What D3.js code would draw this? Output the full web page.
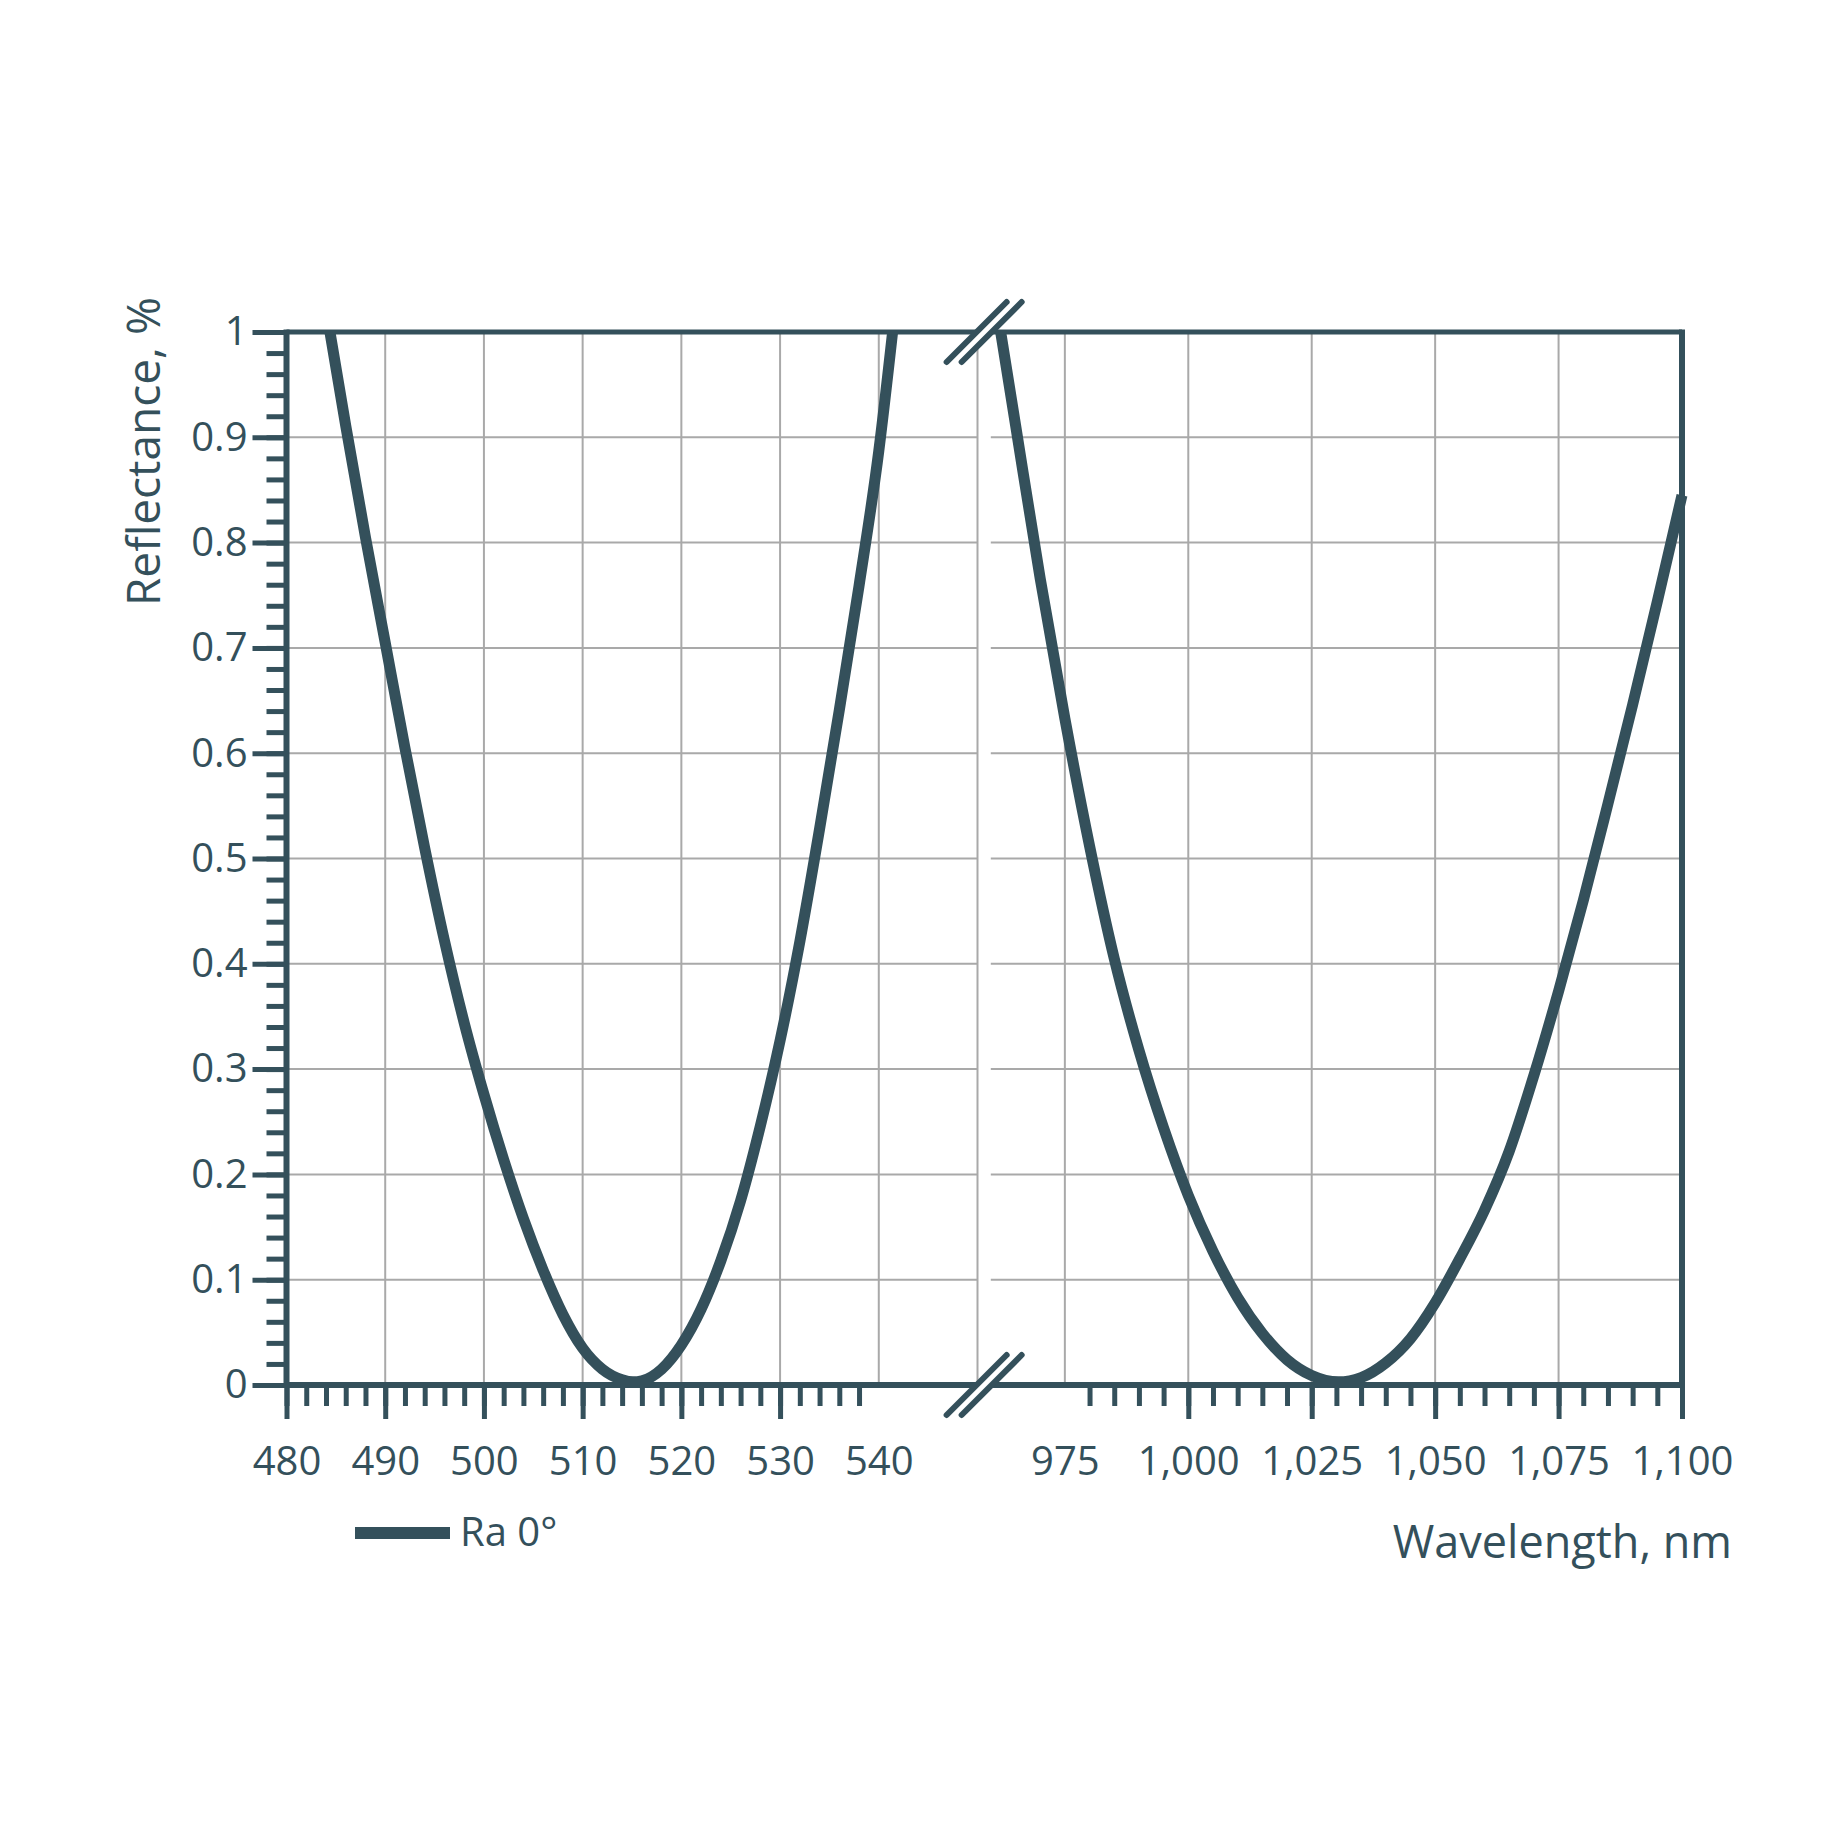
<!DOCTYPE html>
<html>
<head>
<meta charset="utf-8">
<script src="https://cdn.jsdelivr.net/npm/d3@7"></script>
<style>
  body { margin: 0; background: #fff; }
  text { font-family: "Open Sans", "Noto Sans", sans-serif; fill: #34505b; }
</style>
</head>
<body>
<div id="chart"></div>
<script>
// reflectance, left segment (nm -> fraction)
var wlLeft = [484.4, 486, 488, 490, 492, 494, 496, 498, 500, 502, 504, 506, 508, 510, 512, 514, 515.1,
              516, 518, 520, 522, 524, 526, 528, 530, 532, 534, 536, 538, 540, 541.4];
var rLeft  = [1.0, 0.911, 0.805, 0.705, 0.605, 0.510, 0.422, 0.344, 0.276, 0.214, 0.158, 0.109, 0.067, 0.035, 0.015, 0.005, 0.003,
              0.004, 0.015, 0.038, 0.072, 0.118, 0.175, 0.246, 0.327, 0.421, 0.528, 0.641, 0.759, 0.887, 1.0];
// right segment
var wlRight = [962, 965, 970, 975, 980, 985, 990, 995, 1000, 1005, 1010, 1015, 1020, 1025, 1030.4,
               1035, 1040, 1045, 1050, 1055, 1060, 1065, 1070, 1075, 1080, 1085, 1090, 1095, 1100];
var rRight  = [1.0, 0.912, 0.766, 0.633, 0.512, 0.405, 0.318, 0.244, 0.180, 0.127, 0.083, 0.049, 0.024, 0.009, 0.003,
               0.007, 0.021, 0.044, 0.078, 0.120, 0.166, 0.222, 0.294, 0.374, 0.460, 0.552, 0.646, 0.744, 0.845];

var yTicks = [0, 0.1, 0.2, 0.3, 0.4, 0.5, 0.6, 0.7, 0.8, 0.9, 1];
var xLabelsLeft = [480, 490, 500, 510, 520, 530, 540];
var xMajorLeft = [480, 490, 500, 510, 520, 530];
var xGridLeft = [490, 500, 510, 520, 530, 540, 550];
var xLabelsRight = [975, 1000, 1025, 1050, 1075, 1100];
var xMajorRight = [1000, 1025, 1050, 1075, 1100];
var xGridRight = [975, 1000, 1025, 1050, 1075];
var seriesName = "Ra 0°";

var dark = "#34505b", grid = "#a9a9a9";
var W = 1848, H = 1848;
var plotTop = 332, plotBottom = 1385;

var svg = d3.select("#chart").append("svg")
    .attr("width", W).attr("height", H);
svg.append("rect").attr("width", W).attr("height", H).attr("fill", "#fff");

var y = d3.scaleLinear().domain([0, 1]).range([plotBottom, plotTop]);
var xL = d3.scaleLinear().domain([480, 550]).range([286.5, 977.5]);
var xR = d3.scaleLinear().domain([960, 1100]).range([990.8, 1682]);

// grid
var g = svg.append("g");
[[xL, xGridLeft], [xR, xGridRight]].forEach(function (p) {
  var x = p[0];
  g.selectAll(null).data(p[1]).enter().append("line")
    .attr("x1", function (d) { return x(d); }).attr("x2", function (d) { return x(d); })
    .attr("y1", plotTop).attr("y2", plotBottom)
    .attr("stroke", grid).attr("stroke-width", 2);
  g.selectAll(null).data(yTicks.slice(1, -1)).enter().append("line")
    .attr("x1", x.range()[0]).attr("x2", x.range()[1])
    .attr("y1", function (d) { return y(d); }).attr("y2", function (d) { return y(d); })
    .attr("stroke", grid).attr("stroke-width", 2);
});

// curves
var line = function (x) {
  return d3.line().x(function (d) { return x(d[0]); }).y(function (d) { return y(d[1]); })
    .curve(d3.curveMonotoneX);
};
svg.append("path").datum(d3.zip(wlLeft, rLeft))
  .attr("d", line(xL)).attr("fill", "none").attr("stroke", dark).attr("stroke-width", 11);
svg.append("path").datum(d3.zip(wlRight, rRight))
  .attr("d", line(xR)).attr("fill", "none").attr("stroke", dark).attr("stroke-width", 11);

// frame
svg.append("line").attr("x1", 286.5).attr("x2", 1682).attr("y1", plotTop).attr("y2", plotTop)
  .attr("stroke", dark).attr("stroke-width", 5);
svg.append("line").attr("x1", 286.5).attr("x2", 1682).attr("y1", plotBottom).attr("y2", plotBottom)
  .attr("stroke", dark).attr("stroke-width", 6);
svg.append("line").attr("x1", 286.5).attr("x2", 286.5).attr("y1", plotTop - 2.5).attr("y2", plotBottom + 3)
  .attr("stroke", dark).attr("stroke-width", 6);
svg.append("line").attr("x1", 1682).attr("x2", 1682).attr("y1", plotTop - 2.5).attr("y2", plotBottom + 3)
  .attr("stroke", dark).attr("stroke-width", 6);

function styleAxis(sel) {
  sel.select(".domain").remove();
  sel.selectAll(".tick line").attr("stroke", dark).attr("stroke-width", 5);
  sel.selectAll(".tick text").style("font-size", "40px").attr("fill", dark);
}

// y axis
svg.append("g").attr("transform", "translate(286.5,0)")
  .call(d3.axisLeft(y).tickValues(d3.range(0, 1.001, 0.02)).tickSize(20).tickFormat(""))
  .call(styleAxis);
svg.append("g").attr("transform", "translate(286.5,0)")
  .call(d3.axisLeft(y).tickValues(yTicks).tickSize(34).tickPadding(5)
    .tickFormat(function (d) { return d === 0 || d === 1 ? String(d) : d3.format(".1f")(d); }))
  .call(styleAxis);

// x axes, left segment
svg.append("g").attr("transform", "translate(0," + plotBottom + ")")
  .call(d3.axisBottom(xL).tickValues(d3.range(480, 539, 2)).tickSize(21).tickFormat(""))
  .call(styleAxis);
svg.append("g").attr("transform", "translate(0," + plotBottom + ")")
  .call(d3.axisBottom(xL).tickValues(xMajorLeft).tickSize(34).tickFormat(""))
  .call(styleAxis);
svg.append("g").attr("transform", "translate(0," + plotBottom + ")")
  .call(d3.axisBottom(xL).tickValues(xLabelsLeft).tickSize(0).tickPadding(62))
  .call(styleAxis)
  .call(function (s) { s.selectAll(".tick line").remove(); });

// x axes, right segment
svg.append("g").attr("transform", "translate(0," + plotBottom + ")")
  .call(d3.axisBottom(xR).tickValues(d3.range(980, 1101, 5)).tickSize(21).tickFormat(""))
  .call(styleAxis);
svg.append("g").attr("transform", "translate(0," + plotBottom + ")")
  .call(d3.axisBottom(xR).tickValues(xMajorRight).tickSize(34).tickFormat(""))
  .call(styleAxis);
svg.append("g").attr("transform", "translate(0," + plotBottom + ")")
  .call(d3.axisBottom(xR).tickValues(xLabelsRight).tickSize(0).tickPadding(62).tickFormat(d3.format(",")))
  .call(styleAxis)
  .call(function (s) { s.selectAll(".tick line").remove(); });

// axis break marks
var bx = (xL.range()[1] + xR.range()[0]) / 2;
[plotTop, plotBottom].forEach(function (yy) {
  svg.append("line").attr("x1", bx - 30).attr("y1", yy + 30).attr("x2", bx + 30).attr("y2", yy - 30)
    .attr("stroke", "#fff").attr("stroke-width", 8);
  [-7.5, 7.5].forEach(function (o) {
    svg.append("line").attr("x1", bx + o - 30).attr("y1", yy + 30).attr("x2", bx + o + 30).attr("y2", yy - 30)
      .attr("stroke", dark).attr("stroke-width", 6).attr("stroke-linecap", "round");
  });
});

// titles
svg.append("text").attr("transform", "translate(160,297) rotate(-90)")
  .attr("text-anchor", "end").style("font-size", "46px").text("Reflectance, %");
svg.append("text").attr("x", 1732).attr("y", 1558)
  .attr("text-anchor", "end").style("font-size", "45px").text("Wavelength, nm");

// legend
svg.append("line").attr("x1", 355).attr("x2", 450).attr("y1", 1533).attr("y2", 1533)
  .attr("stroke", dark).attr("stroke-width", 12);
svg.append("text").attr("x", 460).attr("y", 1546).style("font-size", "40px").text(seriesName);
</script>
</body>
</html>
